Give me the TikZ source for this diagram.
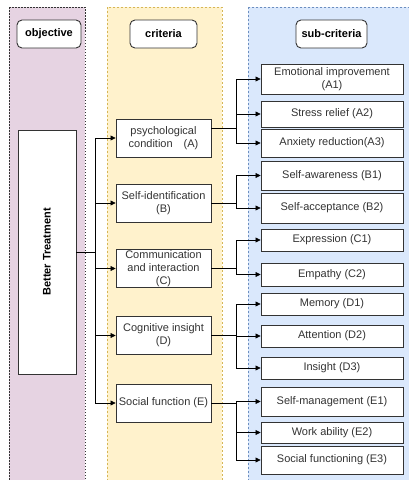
\documentclass[tikz,border=0pt]{standalone}
\usepackage{fontspec}
\setmainfont{Liberation Sans}
\usetikzlibrary{arrows.meta}

\definecolor{objpink}{HTML}{E6D3E2}
\definecolor{crityellow}{HTML}{FFF2CC}
\definecolor{critborder}{HTML}{D6B656}
\definecolor{subblue}{HTML}{DAE8FC}
\definecolor{subborder}{HTML}{6C8EBF}
\definecolor{boxtext}{HTML}{333333}

\begin{document}
\begin{tikzpicture}[x=1pt, y=-1pt,
  box/.style={draw=black!80, fill=white, line width=0.9pt, inner sep=1pt,
    align=center, text=boxtext, font=\fontsize{11}{13}\selectfont},
  crit/.style={box, minimum width=95pt, minimum height=38pt},
  sub/.style={box, minimum width=142pt},
  head/.style={box, rounded corners=5pt, minimum height=28pt, text=black,
    font=\fontsize{11}{13}\selectfont\bfseries},
  link/.style={line width=0.7pt, -{Triangle[length=5pt, width=5pt]}}]

  \useasboundingbox (0,0) rectangle (408,480);

  % Columns
  \draw[fill=objpink, draw=black!80, dash pattern=on 1.5pt off 1.5pt] (9,7) rectangle (85,490);
  \draw[fill=crityellow, draw=critborder, dash pattern=on 2pt off 2pt] (107,7) rectangle (222,490);
  \draw[fill=subblue, draw=subborder, dash pattern=on 2pt off 2pt] (248,7) rectangle (412,490);

  % Headers
  \node[head, minimum width=64pt] (hobj) at (49,34) {objective};
  \node[head, minimum width=67pt] (hcrit) at (163.5,34) {criteria};
  \node[head, minimum width=71pt] (hsub) at (331.5,34) {sub-criteria};

  % Objective
  \node[box, minimum width=58pt, minimum height=244pt] (obj) at (47,252) {};
  \node[rotate=90, font=\fontsize{11}{13}\selectfont\bfseries] (objlabel) at (obj.center) {Better Treatment};

  % Criteria
  \node[crit] (A) at (163.5,138) {psychological\\condition\quad(A)};
  \node[crit] (B) at (163.5,203) {Self-identification\\(B)};
  \node[crit] (C) at (163.5,268.5) {Communication\\and interaction\\(C)};
  \node[crit] (D) at (163.5,335.5) {Cognitive insight\\(D)};
  \node[crit] (E) at (163.5,403) {Social function (E)};

  % Sub-criteria
  \node[sub, minimum height=30pt] (A1) at (332,79) {Emotional improvement\\(A1)};
  \node[sub, minimum height=26pt] (A2) at (332,114) {Stress relief (A2)};
  \node[sub, minimum height=28pt] (A3) at (332,143) {Anxiety reduction(A3)};
  \node[sub, minimum height=29pt] (B1) at (332,175.5) {Self-awareness (B1)};
  \node[sub, minimum height=30pt] (B2) at (332,208) {Self-acceptance (B2)};
  \node[sub, minimum height=22pt] (C1) at (332,240) {Expression (C1)};
  \node[sub, minimum height=23pt] (C2) at (332,274.5) {Empathy (C2)};
  \node[sub, minimum height=22pt] (D1) at (332,304) {Memory (D1)};
  \node[sub, minimum height=22pt] (D2) at (332,336) {Attention (D2)};
  \node[sub, minimum height=22pt] (D3) at (332,368) {Insight (D3)};
  \node[sub, minimum height=29pt] (E1) at (332,401.5) {Self-management (E1)};
  \node[sub, minimum height=21pt] (E2) at (332,432.5) {Work ability (E2)};
  \node[sub, minimum height=28pt] (E3) at (332,460) {Social functioning (E3)};

  % Connectors
  \coordinate (trunk) at (95,252);
  \coordinate (branch) at (236,0);
  \draw[line width=0.7pt] (obj.east) -- (trunk);
  \foreach \c in {A,B,C,D,E}
    \draw[link] (trunk) |- (\c.west);

  \coordinate (A-out) at ([yshift=10pt]A.east);
  \coordinate (B-out) at (B.east);
  \coordinate (C-out) at (C.east);
  \coordinate (D-out) at (D.east);
  \coordinate (E-out) at (E.east);
  \foreach \c/\s in {A/A1, A/A2, A/A3, B/B1, B/B2, C/C1, C/C2,
                     D/D1, D/D2, D/D3, E/E1, E/E2, E/E3}
    \draw[link] (\c-out) -- (\c-out -| branch) |- (\s.west);
\end{tikzpicture}
\end{document}
